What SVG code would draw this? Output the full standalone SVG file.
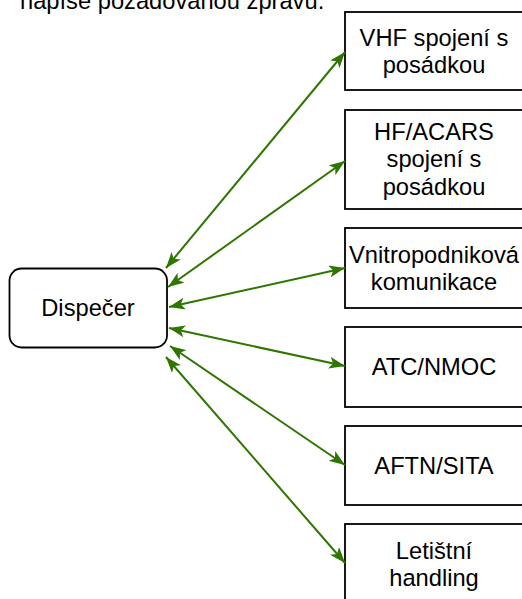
<svg xmlns="http://www.w3.org/2000/svg" width="522" height="599" viewBox="0 0 522 599">
<defs>
<marker id="arr" viewBox="0 0 16 12" refX="16" refY="6" markerWidth="16" markerHeight="12" markerUnits="userSpaceOnUse" orient="auto-start-reverse">
<path d="M0,0 L16,6 L0,12 L4,6 Z" fill="#2D7600"/>
</marker>
</defs>
<style>
.box{fill:#fff;stroke:#000;stroke-width:1.8}
.t{font-family:"Liberation Sans",Arial,Helvetica,sans-serif;font-size:23.7px;fill:#000;text-anchor:middle}
.c{stroke:#2D7600;stroke-width:2;fill:none;marker-start:url(#arr);marker-end:url(#arr)}
</style>
<rect width="522" height="599" fill="#fff"/>
<text x="20" y="8.5" class="t" style="text-anchor:start">napíše požadovanou zprávu.</text>
<g id="dispecer">
<rect class="box" x="9.5" y="268.5" width="157.5" height="79" rx="12"/>
<text class="t" x="88" y="316">Dispečer</text>
</g>
<g id="vhf">
<rect class="box" x="345" y="12" width="178" height="78"/>
<text class="t" x="434" y="45.6">VHF spojení s</text>
<text class="t" x="434" y="73.2">posádkou</text>
</g>
<g id="hf">
<rect class="box" x="345" y="110" width="178" height="99"/>
<text class="t" x="434" y="139.5">HF/ACARS</text>
<text class="t" x="434" y="167.1">spojení s</text>
<text class="t" x="434" y="194.7">posádkou</text>
</g>
<g id="vnitro">
<rect class="box" x="345" y="228" width="178" height="80"/>
<text class="t" x="434" y="262.8">Vnitropodniková</text>
<text class="t" x="434" y="290.4">komunikace</text>
</g>
<g id="atc">
<rect class="box" x="345" y="327" width="178" height="80"/>
<text class="t" x="434" y="375.4">ATC/NMOC</text>
</g>
<g id="aftn">
<rect class="box" x="345" y="426" width="178" height="79"/>
<text class="t" x="434" y="474">AFTN/SITA</text>
</g>
<g id="handling">
<rect class="box" x="345" y="524" width="178" height="80"/>
<text class="t" x="434" y="558.8">Letištní</text>
<text class="t" x="434" y="586.4">handling</text>
</g>
<g id="connectors">
<line class="c" x1="166" y1="268" x2="345" y2="52"/>
<line class="c" x1="168" y1="287" x2="345" y2="161"/>
<line class="c" x1="169" y1="307" x2="345" y2="268"/>
<line class="c" x1="169" y1="328" x2="345" y2="366"/>
<line class="c" x1="170" y1="346" x2="345" y2="465"/>
<line class="c" x1="166" y1="357" x2="345" y2="563"/>
</g>
</svg>
